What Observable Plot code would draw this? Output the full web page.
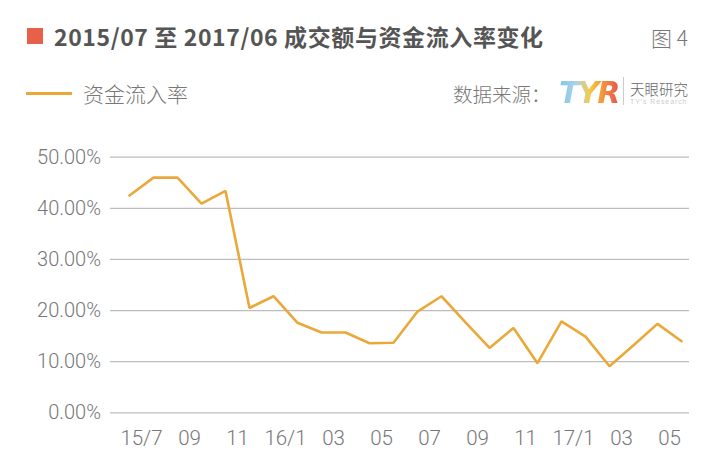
<!DOCTYPE html>
<html>
<head>
<meta charset="utf-8">
<script src="https://cdn.jsdelivr.net/npm/d3@7"></script>
<script src="https://cdn.jsdelivr.net/npm/@observablehq/plot@0.6"></script>
<style>
  html, body { margin: 0; padding: 0; background: #fff; }
  #wrap { position: relative; width: 715px; height: 472px; overflow: hidden; font-family: "Noto Sans CJK SC", "Noto Sans", sans-serif; }
  .abs { position: absolute; white-space: nowrap; }
  #sq { left: 27px; top: 28px; width: 16px; height: 16px; background: #E8604A; }
  #title { left: 54px; top: 20px; font-size: 23px; line-height: 32px; font-weight: 700; color: #555; letter-spacing: 0.6px; }
  #fig { left: 651px; top: 22px; font-size: 21px; line-height: 30px; color: #777; font-weight: 300; }
  #legline { left: 26px; top: 92px; width: 46px; height: 3px; background: #EBA83A; }
  #legtext { left: 83px; top: 78px; font-size: 21px; line-height: 30px; color: #777; font-weight: 300; }
  #src { left: 453px; top: 79px; font-size: 19.5px; line-height: 30px; color: #777; font-weight: 300; }
  #logo { left: 559px; top: 77px; font-size: 30px; line-height: 32px; font-weight: 900; font-style: italic; font-family: "DejaVu Sans", sans-serif; letter-spacing: -2px;
          background: linear-gradient(90deg, #7EC6EE 0%, #A9D3E6 28%, #F6C94A 52%, #F29A3C 72%, #E8564A 100%);
          -webkit-background-clip: text; background-clip: text; color: transparent; }
  #vbar { left: 623px; top: 77px; width: 1px; height: 28px; background: #ccc; }
  #tyzh { left: 630px; top: 80px; font-size: 14.5px; line-height: 18px; color: #666; font-weight: 300; }
  #tyen { left: 630px; top: 97px; font-size: 7px; line-height: 9px; color: #ccc; letter-spacing: 0.9px; font-family: "Liberation Sans", sans-serif; }
  #chart { position: absolute; left: 0; top: 130px; }
</style>
</head>
<body>
<div id="wrap">
  <div class="abs" id="sq"></div>
  <div class="abs" id="title">2015/07 至 2017/06 成交额与资金流入率变化</div>
  <div class="abs" id="fig">图 4</div>
  <div class="abs" id="legline"></div>
  <div class="abs" id="legtext">资金流入率</div>
  <div class="abs" id="src">数据来源：</div>
  <div class="abs" id="logo">TYR</div>
  <div class="abs" id="vbar"></div>
  <div class="abs" id="tyzh">天眼研究</div>
  <div class="abs" id="tyen">TY's Research</div>
  <div id="chart"></div>
</div>
<script>
const months = [
  "2015/07","2015/08","2015/09","2015/10","2015/11","2015/12",
  "2016/01","2016/02","2016/03","2016/04","2016/05","2016/06",
  "2016/07","2016/08","2016/09","2016/10","2016/11","2016/12",
  "2017/01","2017/02","2017/03","2017/04","2017/05","2017/06"
];
const inflowRate = [
  42.5, 46.0, 46.0, 40.9, 43.4, 20.5,
  22.8, 17.6, 15.7, 15.7, 13.6, 13.7,
  19.8, 22.8, 17.7, 12.7, 16.6, 9.7,
  17.9, 14.9, 9.1, 13.2, 17.4, 14.0
];
const tickMonths = months.filter((d, i) => i % 2 === 0);
const tickLabels = ["15/7","09","11","16/1","03","05","07","09","11","17/1","03","05"];
const yTicks = [0, 10, 20, 30, 40, 50];

const data = months.map((m, i) => ({month: m, rate: inflowRate[i]}));
const labelOf = new Map(tickMonths.map((m, i) => [m, tickLabels[i]]));

const chart = Plot.plot({
  width: 715,
  height: 342,
  marginTop: 26.7,
  marginBottom: 59.7,
  marginLeft: 110,
  marginRight: 26,
  style: {fontFamily: "Roboto, 'Noto Sans CJK SC', sans-serif", fontWeight: 300, background: "transparent", overflow: "visible"},
  x: {type: "point", domain: months, padding: 0, insetLeft: 18.3, insetRight: 8},
  y: {domain: [0, 50]},
  marks: [
    Plot.ruleY(yTicks, {stroke: "#bdbdbd", strokeWidth: 1.2}),
    Plot.axisY(yTicks, {tickSize: 0, tickPadding: 9.5, fontSize: 20, fill: "#777", letterSpacing: "1.5px",
      tickFormat: d => d.toFixed(2) + "%", label: null}),
    Plot.axisX(tickMonths, {tickSize: 0, tickPadding: 18, fontSize: 20.5, fill: "#777", letterSpacing: "1.5px",
      dx: 12, tickFormat: d => labelOf.get(d), label: null}),
    Plot.line(data, {x: "month", y: "rate", stroke: "#EBA83A", strokeWidth: 2.6, strokeLinejoin: "miter"})
  ]
});
document.getElementById("chart").appendChild(chart);
</script>
</body>
</html>
